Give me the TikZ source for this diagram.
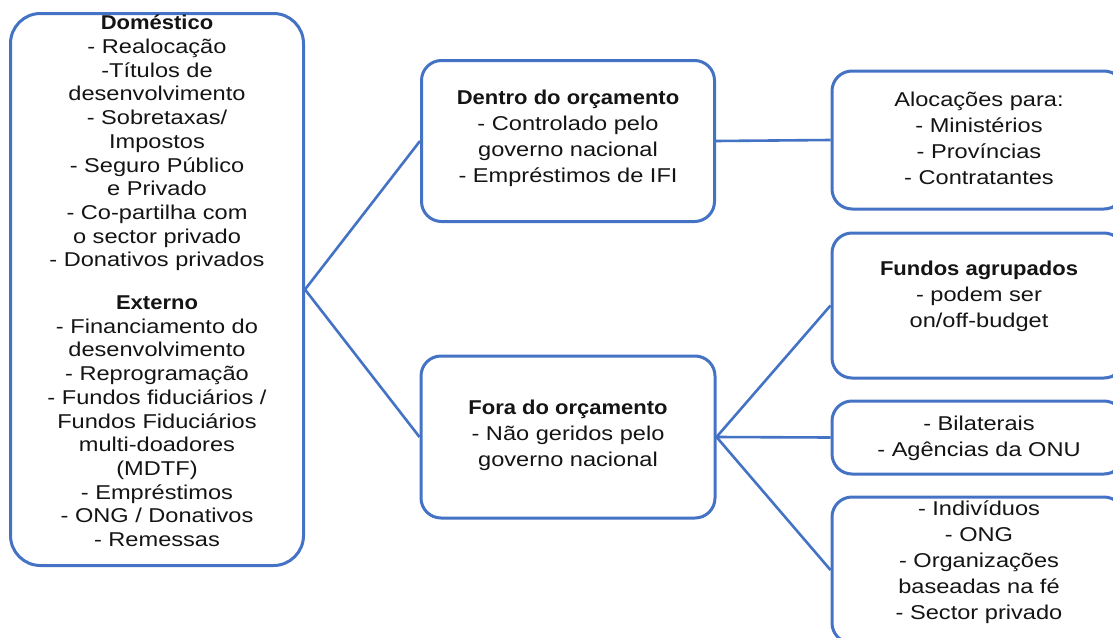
\documentclass[tikz,border=0pt]{standalone}
\usepackage{fontspec}
\setmainfont[FakeStretch=1.18]{Liberation Sans}
\newfontfamily\hb[FakeStretch=1.1]{Liberation Sans}
\newcommand{\hd}[1]{{\hb\bfseries #1}}
\definecolor{bl}{RGB}{68,114,196}
\definecolor{tx}{RGB}{20,20,20}
\begin{document}
\begin{tikzpicture}[x=1pt,y=-1pt,
  box/.style={draw=bl, line width=3pt, rounded corners=20pt, inner sep=0pt},
  txt/.style={text=tx, align=center, inner sep=0pt, font=\fontsize{20}{26}\selectfont},
  conn/.style={draw=bl, line width=2.6pt}]
\useasboundingbox (0,0) rectangle (1113,637);
\clip (0,0) rectangle (1113,637);
\fill[white] (0,0) rectangle (1113,637);
% boxes
\node[box, rounded corners=30pt, minimum width=293pt, minimum height=552pt] (src) at (157,289.5) {};
\node[box, minimum width=293pt, minimum height=161pt] (dentro) at (568,141) {};
\node[box, minimum width=294pt, minimum height=162pt] (fora) at (568,437) {};
\node[box, minimum width=292pt, minimum height=138pt] (aloc) at (978,140) {};
\node[box, minimum width=292pt, minimum height=145pt] (fund) at (978,305.5) {};
\node[box, minimum width=292pt, minimum height=73pt] (bilat) at (978,437.5) {};
\node[box, minimum width=292pt, minimum height=146pt] (indiv) at (978,570) {};
% texts
\node[txt, font=\fontsize{20}{23.7}\selectfont] (srct) at (157,281) {\hd{Doméstico}\\- Realocação\\-Títulos de\\desenvolvimento\\- Sobretaxas/\\Impostos\\- Seguro Público\\e Privado\\- Co-partilha com\\o sector privado\\- Donativos privados\\[19pt]\hd{Externo}\\- Financiamento do\\desenvolvimento\\- Reprogramação\\- Fundos fiduciários /\\Fundos Fiduciários\\multi-doadores\\(MDTF)\\- Empréstimos\\- ONG / Donativos\\- Remessas};
\node[txt] (dentrot) at (568,138) {\hd{Dentro do orçamento}\\- Controlado pelo\\governo nacional\\- Empréstimos de IFI};
\node[txt] (forat) at (568,435) {\hd{Fora do orçamento}\\- Não geridos pelo\\governo nacional};
\node[txt] (aloct) at (979,138) {Alocações para:\\- Ministérios\\- Províncias\\- Contratantes};
\node[txt] (fundt) at (979,296) {\hd{Fundos agrupados}\\- podem ser\\on/off-budget};
\node[txt] (bilatt) at (979,438) {- Bilaterais\\- Agências da ONU};
\node[txt] (indivt) at (979,562) {- Indivíduos\\- ONG\\- Organizações\\baseadas na fé\\- Sector privado};
% connectors
\draw[conn] (src.east) -- (dentro.west);
\draw[conn] (src.east) -- (fora.west);
\draw[conn] (dentro.east) -- (aloc.west);
\draw[conn] (fora.east) -- (fund.west);
\draw[conn] (fora.east) -- (bilat.west);
\draw[conn] (fora.east) -- (indiv.west);
\end{tikzpicture}
\end{document}
